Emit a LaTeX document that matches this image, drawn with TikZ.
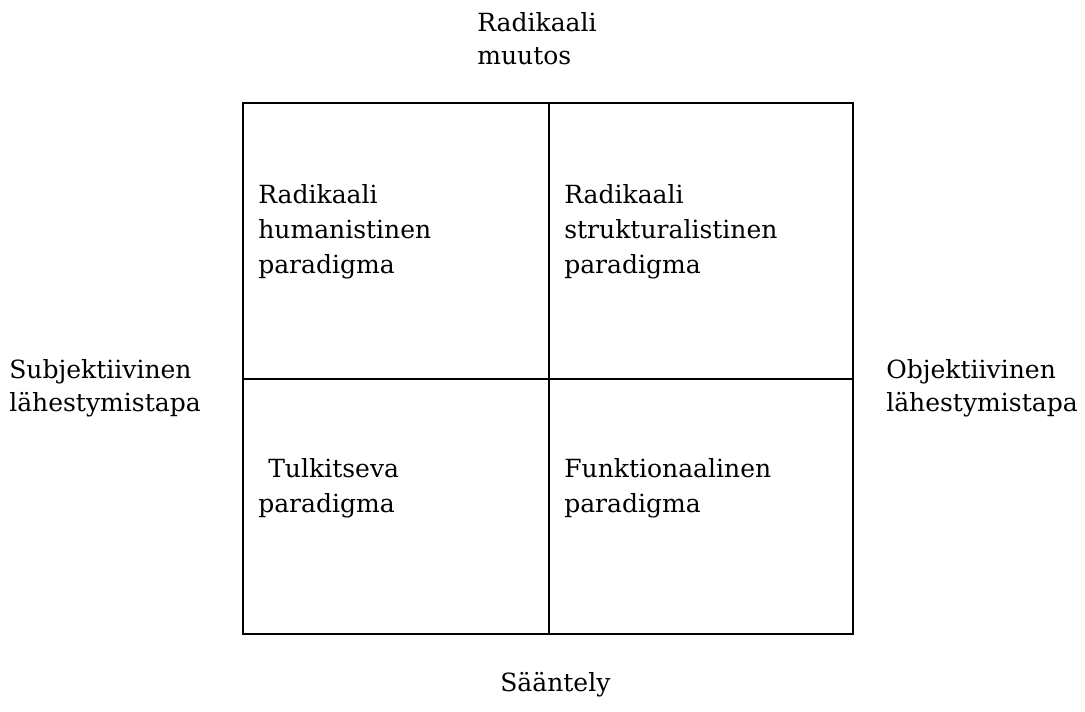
\documentclass[tikz,border=0pt]{standalone}
\usepackage{fontspec}
\setmainfont{DejaVu Serif}
\usepackage{tikz}

\tikzset{
  label/.style={anchor=north west,inner sep=0pt,align=left},
  axislabel/.style={label,font=\fontsize{17.8}{23.5}\selectfont},
  grid/.style={line width=1pt,black}
}

\begin{document}
\begin{tikzpicture}[x=0.025cm,y=-0.025cm,font=\fontsize{17.8}{25}\selectfont]
  \useasboundingbox (0,0) rectangle (1085,711);
  % frame of the four paradigms
  \coordinate (nw) at (243,103);
  \coordinate (se) at (853,634);
  \coordinate (top) at (549,103);
  \coordinate (bottom) at (549,634);
  \coordinate (left) at (243,379);
  \coordinate (right) at (853,379);
  \draw[grid] (nw) rectangle (se);
  \draw[grid] (top) -- (bottom);
  \draw[grid] (left) -- (right);
  % axis labels
  \node[axislabel] (muutos) at (477,12) {Radikaali\\muutos};
  \node[axislabel] (saantely) at (500,672) {Sääntely};
  \node[axislabel] (subj) at (9,359) {Subjektiivinen\\lähestymistapa};
  \node[axislabel] (obj) at (886,359) {Objektiivinen\\lähestymistapa};
  % quadrants
  \node[label] (humanist) at (258,184) {Radikaali\\humanistinen\\paradigma};
  \node[label] (struct) at (564,184) {Radikaali\\strukturalistinen\\paradigma};
  \node[label] (tulk) at (258,458) {\hspace{0.4em}Tulkitseva\\paradigma};
  \node[label] (funk) at (564,458) {Funktionaalinen\\paradigma};
\end{tikzpicture}
\end{document}
